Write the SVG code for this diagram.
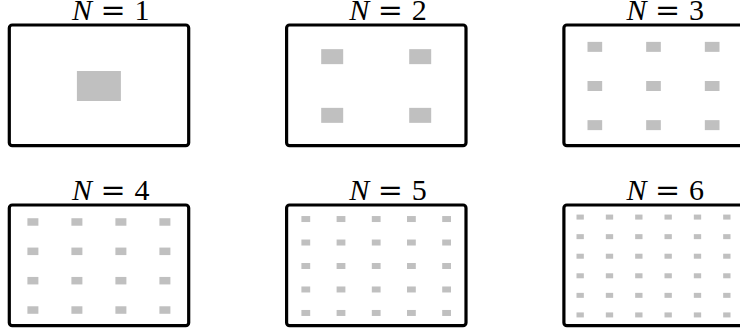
<svg xmlns="http://www.w3.org/2000/svg" width="740" height="336" viewBox="0 0 740 336">
<style>
.box{fill:#fff;stroke:#000;stroke-width:3.2}
.c{fill:#c0c0c0}
.lbl{font-family:"Liberation Serif","DejaVu Serif",serif;font-size:30px;fill:#000;text-anchor:middle}
.it{font-style:italic}
.eq{font-family:"DejaVu Serif","Liberation Serif",serif}
</style>
<rect width="740" height="336" fill="#fff"/>
<g id="n1">
<text class="lbl" y="20"><tspan class="it" x="82">N</tspan><tspan class="eq" x="113">=</tspan><tspan x="142">1</tspan></text>
<rect class="box" x="9.3" y="25" width="179.4" height="120.7" rx="3"/>
<rect class="c" x="76.9" y="71" width="44" height="30"/>
</g>
<g id="n2">
<text class="lbl" y="20"><tspan class="it" x="359.3">N</tspan><tspan class="eq" x="390.3">=</tspan><tspan x="419.3">2</tspan></text>
<rect class="box" x="286.6" y="25" width="179.4" height="120.7" rx="3"/>
<rect class="c" x="321.2" y="49.15" width="22" height="15"/>
<rect class="c" x="409.2" y="49.15" width="22" height="15"/>
<rect class="c" x="321.2" y="107.85" width="22" height="15"/>
<rect class="c" x="409.2" y="107.85" width="22" height="15"/>
</g>
<g id="n3">
<text class="lbl" y="20"><tspan class="it" x="636.6">N</tspan><tspan class="eq" x="667.6">=</tspan><tspan x="696.6">3</tspan></text>
<rect class="box" x="563.9" y="25" width="179.4" height="120.7" rx="3"/>
<rect class="c" x="587.5" y="41.87" width="14.67" height="10"/>
<rect class="c" x="646.17" y="41.87" width="14.67" height="10"/>
<rect class="c" x="704.83" y="41.87" width="14.67" height="10"/>
<rect class="c" x="587.5" y="81" width="14.67" height="10"/>
<rect class="c" x="646.17" y="81" width="14.67" height="10"/>
<rect class="c" x="704.83" y="81" width="14.67" height="10"/>
<rect class="c" x="587.5" y="120.13" width="14.67" height="10"/>
<rect class="c" x="646.17" y="120.13" width="14.67" height="10"/>
<rect class="c" x="704.83" y="120.13" width="14.67" height="10"/>
</g>
<g id="n4">
<text class="lbl" y="200"><tspan class="it" x="82">N</tspan><tspan class="eq" x="113">=</tspan><tspan x="142">4</tspan></text>
<rect class="box" x="9.3" y="205" width="179.4" height="120.7" rx="3"/>
<rect class="c" x="27.4" y="218.23" width="11" height="7.5"/>
<rect class="c" x="71.4" y="218.23" width="11" height="7.5"/>
<rect class="c" x="115.4" y="218.23" width="11" height="7.5"/>
<rect class="c" x="159.4" y="218.23" width="11" height="7.5"/>
<rect class="c" x="27.4" y="247.58" width="11" height="7.5"/>
<rect class="c" x="71.4" y="247.58" width="11" height="7.5"/>
<rect class="c" x="115.4" y="247.58" width="11" height="7.5"/>
<rect class="c" x="159.4" y="247.58" width="11" height="7.5"/>
<rect class="c" x="27.4" y="276.93" width="11" height="7.5"/>
<rect class="c" x="71.4" y="276.93" width="11" height="7.5"/>
<rect class="c" x="115.4" y="276.93" width="11" height="7.5"/>
<rect class="c" x="159.4" y="276.93" width="11" height="7.5"/>
<rect class="c" x="27.4" y="306.28" width="11" height="7.5"/>
<rect class="c" x="71.4" y="306.28" width="11" height="7.5"/>
<rect class="c" x="115.4" y="306.28" width="11" height="7.5"/>
<rect class="c" x="159.4" y="306.28" width="11" height="7.5"/>
</g>
<g id="n5">
<text class="lbl" y="200"><tspan class="it" x="359.3">N</tspan><tspan class="eq" x="390.3">=</tspan><tspan x="419.3">5</tspan></text>
<rect class="box" x="286.6" y="205" width="179.4" height="120.7" rx="3"/>
<rect class="c" x="301.4" y="216.04" width="8.8" height="6"/>
<rect class="c" x="336.6" y="216.04" width="8.8" height="6"/>
<rect class="c" x="371.8" y="216.04" width="8.8" height="6"/>
<rect class="c" x="407" y="216.04" width="8.8" height="6"/>
<rect class="c" x="442.2" y="216.04" width="8.8" height="6"/>
<rect class="c" x="301.4" y="239.52" width="8.8" height="6"/>
<rect class="c" x="336.6" y="239.52" width="8.8" height="6"/>
<rect class="c" x="371.8" y="239.52" width="8.8" height="6"/>
<rect class="c" x="407" y="239.52" width="8.8" height="6"/>
<rect class="c" x="442.2" y="239.52" width="8.8" height="6"/>
<rect class="c" x="301.4" y="263" width="8.8" height="6"/>
<rect class="c" x="336.6" y="263" width="8.8" height="6"/>
<rect class="c" x="371.8" y="263" width="8.8" height="6"/>
<rect class="c" x="407" y="263" width="8.8" height="6"/>
<rect class="c" x="442.2" y="263" width="8.8" height="6"/>
<rect class="c" x="301.4" y="286.48" width="8.8" height="6"/>
<rect class="c" x="336.6" y="286.48" width="8.8" height="6"/>
<rect class="c" x="371.8" y="286.48" width="8.8" height="6"/>
<rect class="c" x="407" y="286.48" width="8.8" height="6"/>
<rect class="c" x="442.2" y="286.48" width="8.8" height="6"/>
<rect class="c" x="301.4" y="309.96" width="8.8" height="6"/>
<rect class="c" x="336.6" y="309.96" width="8.8" height="6"/>
<rect class="c" x="371.8" y="309.96" width="8.8" height="6"/>
<rect class="c" x="407" y="309.96" width="8.8" height="6"/>
<rect class="c" x="442.2" y="309.96" width="8.8" height="6"/>
</g>
<g id="n6">
<text class="lbl" y="200"><tspan class="it" x="636.6">N</tspan><tspan class="eq" x="667.6">=</tspan><tspan x="696.6">6</tspan></text>
<rect class="box" x="563.9" y="205" width="179.4" height="120.7" rx="3"/>
<g class="c">
<rect x="576.5" y="214.58" width="7.33" height="5"/><rect x="605.83" y="214.58" width="7.33" height="5"/><rect x="635.17" y="214.58" width="7.33" height="5"/><rect x="664.5" y="214.58" width="7.33" height="5"/><rect x="693.83" y="214.58" width="7.33" height="5"/><rect x="723.17" y="214.58" width="7.33" height="5"/>
<rect x="576.5" y="234.15" width="7.33" height="5"/><rect x="605.83" y="234.15" width="7.33" height="5"/><rect x="635.17" y="234.15" width="7.33" height="5"/><rect x="664.5" y="234.15" width="7.33" height="5"/><rect x="693.83" y="234.15" width="7.33" height="5"/><rect x="723.17" y="234.15" width="7.33" height="5"/>
<rect x="576.5" y="253.72" width="7.33" height="5"/><rect x="605.83" y="253.72" width="7.33" height="5"/><rect x="635.17" y="253.72" width="7.33" height="5"/><rect x="664.5" y="253.72" width="7.33" height="5"/><rect x="693.83" y="253.72" width="7.33" height="5"/><rect x="723.17" y="253.72" width="7.33" height="5"/>
<rect x="576.5" y="273.28" width="7.33" height="5"/><rect x="605.83" y="273.28" width="7.33" height="5"/><rect x="635.17" y="273.28" width="7.33" height="5"/><rect x="664.5" y="273.28" width="7.33" height="5"/><rect x="693.83" y="273.28" width="7.33" height="5"/><rect x="723.17" y="273.28" width="7.33" height="5"/>
<rect x="576.5" y="292.85" width="7.33" height="5"/><rect x="605.83" y="292.85" width="7.33" height="5"/><rect x="635.17" y="292.85" width="7.33" height="5"/><rect x="664.5" y="292.85" width="7.33" height="5"/><rect x="693.83" y="292.85" width="7.33" height="5"/><rect x="723.17" y="292.85" width="7.33" height="5"/>
<rect x="576.5" y="312.42" width="7.33" height="5"/><rect x="605.83" y="312.42" width="7.33" height="5"/><rect x="635.17" y="312.42" width="7.33" height="5"/><rect x="664.5" y="312.42" width="7.33" height="5"/><rect x="693.83" y="312.42" width="7.33" height="5"/><rect x="723.17" y="312.42" width="7.33" height="5"/>
</g>
</g>
</svg>
